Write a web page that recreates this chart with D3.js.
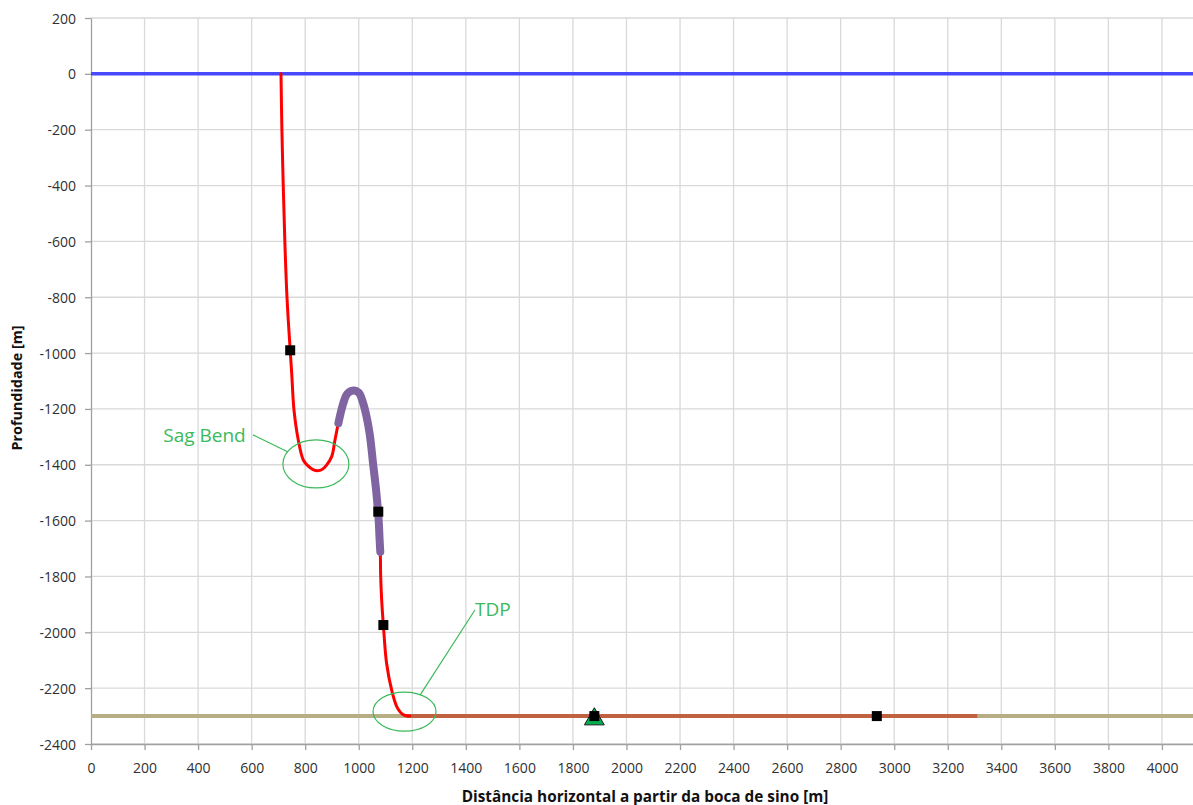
<!DOCTYPE html>
<html><head><meta charset="utf-8">
<script src="https://cdn.jsdelivr.net/npm/d3@7"></script>
<style>
html,body{margin:0;padding:0;background:#fff;}
svg{display:block;font-family:"Open Sans", sans-serif;}
</style></head>
<body><svg id="chart" width="1193" height="805"></svg>
<script>
// ---- data ----
const xTicks = d3.range(0, 4001, 200);
const yTicks = d3.range(-2400, 201, 200);
const xTitle = "Distância horizontal a partir da boca de sino [m]";
const yTitle = "Profundidade [m]";

// water surface and seabed
const surfaceLine = [[0, 0], [4116, 0]];
const seabedLine = [[0, -2300], [4116, -2300]];
// pipe resting on seabed
const flowlineOnSeabed = [[1180, -2300], [3310, -2300]];

// riser catenary (red)
const riserX = [709.6, 713, 718, 724, 732, 744, 749.6, 758.2, 774.2, 792.9, 810.5, 829.1, 846.7, 862.7, 877.7, 899, 911.3, 924, 942.3, 957, 979.6, 1000, 1014, 1028, 1041, 1054, 1065.5, 1074.5, 1078, 1080.5, 1082, 1086, 1092, 1104, 1123, 1142, 1158, 1173, 1191];
const riserY = [0, -200, -400, -600, -800, -990, -1072, -1204, -1311, -1383, -1404, -1417, -1421, -1417, -1404, -1371, -1311, -1251, -1180, -1146, -1134, -1142, -1172, -1222, -1290, -1400, -1497, -1600, -1669, -1712, -1801, -1890, -1974, -2111, -2207, -2266, -2289, -2298, -2300];

// buoyancy section (purple)
const buoyX = [924, 942.3, 957, 979.6, 1000, 1014, 1028, 1041, 1054, 1065.5, 1074.5, 1078, 1080.5];
const buoyY = [-1251, -1180, -1146, -1134, -1142, -1172, -1222, -1290, -1400, -1497, -1600, -1669, -1712];

// square markers
const markerX = [744, 1073, 1092, 1880, 2935];
const markerY = [-990, -1568, -1974, -2300, -2300];
// triangle marker
const triX = [1880];
const triY = [-2311];

// annotations (data coords)
const annotations = [
  {label: "Sag Bend", cx: 840, cy: -1397, textX: 270, textY: -1293, lx1: 605, ly1: -1293, lx2: 736, ly2: -1354, rx: 33, ry: 24},
  {label: "TDP", cx: 1171, cy: -2284, textX: 1434, textY: -1917, lx1: 1434, ly1: -1920, lx2: 1229, ly2: -2225, rx: 31.5, ry: 19.5}
];

// ---- layout ----
const svg = d3.select("#chart");
const pLeft = 91, pRight = 1193, pTop = 18, pBottom = 744;
const x = d3.scaleLinear().domain([0, 4116]).range([pLeft, pRight]);
const y = d3.scaleLinear().domain([-2400, 200]).range([pBottom, pTop]);

// grid
svg.append("g").selectAll("line").data(xTicks.filter(d => d > 0)).join("line")
  .attr("x1", d => x(d)).attr("x2", d => x(d)).attr("y1", pTop).attr("y2", pBottom)
  .attr("stroke", "#d9d9d9").attr("stroke-width", 1.3);
svg.append("g").selectAll("line").data(yTicks).join("line")
  .attr("x1", pLeft).attr("x2", pRight).attr("y1", d => y(d)).attr("y2", d => y(d))
  .attr("stroke", "#d9d9d9").attr("stroke-width", 1.3);

// axes
const fmt = d => String(d);
const xAxis = svg.append("g").attr("transform", `translate(0,${pBottom})`)
  .call(d3.axisBottom(x).tickValues(xTicks).tickFormat(fmt).tickSize(6).tickPadding(13).tickSizeOuter(0));
const yAxis = svg.append("g").attr("transform", `translate(${pLeft},0)`)
  .call(d3.axisLeft(y).tickValues(yTicks).tickFormat(fmt).tickSize(6).tickPadding(9).tickSizeOuter(0));
[xAxis, yAxis].forEach(g => {
  g.select(".domain").attr("stroke", "#a0a0a0").attr("stroke-width", 1.3);
  g.selectAll(".tick line").attr("stroke", "#a0a0a0").attr("stroke-width", 1.3);
  g.selectAll(".tick text").attr("fill", "#303030").style("font-size", "14px").style("font-family", "'Open Sans', sans-serif");
});
yAxis.selectAll(".tick text").attr("dy", "0.36em");

// axis titles (fit to reference widths)
const xt = svg.append("text").attr("x", 645).attr("y", 802).attr("text-anchor", "middle")
  .style("font-size", "13px").style("font-weight", "bold").attr("fill", "#111").text(xTitle);
const yt = svg.append("text").attr("transform", "translate(22,388) rotate(-90)").attr("text-anchor", "middle")
  .style("font-size", "13px").style("font-weight", "bold").attr("fill", "#111").text(yTitle);
const fit = (t, w) => { const L = t.node().getComputedTextLength(); if (L > 0) t.style("font-size", (13 * w / L).toFixed(2) + "px"); };
fit(xt, 367); fit(yt, 125);

const line = d3.line().x(d => x(d[0])).y(d => y(d[1]));
const curve = d3.line().x(d => x(d[0])).y(d => y(d[1])).curve(d3.curveCatmullRom.alpha(0.5));

// water surface
svg.append("path").datum(surfaceLine).attr("d", line).attr("fill", "none")
  .attr("stroke", "#4848ff").attr("stroke-width", 3.5);
// seabed
svg.append("path").datum(seabedLine).attr("d", line).attr("fill", "none")
  .attr("stroke", "#b8ae86").attr("stroke-width", 4);
svg.append("path").datum(flowlineOnSeabed).attr("d", line).attr("fill", "none")
  .attr("stroke", "#c0623f").attr("stroke-width", 4);

// riser
svg.append("path").datum(riserX.map((v, i) => [v, riserY[i]])).attr("d", curve).attr("fill", "none")
  .attr("stroke", "#ff0000").attr("stroke-width", 3).attr("stroke-linecap", "round");
svg.append("path").datum(buoyX.map((v, i) => [v, buoyY[i]])).attr("d", curve).attr("fill", "none")
  .attr("stroke", "#8064a2").attr("stroke-width", 8).attr("stroke-linecap", "round").attr("stroke-linejoin", "round");

// triangle
svg.append("g").selectAll("path").data(triX.map((v, i) => [v, triY[i]])).join("path")
  .attr("transform", d => `translate(${x(d[0])},${y(d[1])})`)
  .attr("d", d3.symbol(d3.symbolTriangle, 170))
  .attr("fill", "#00b050").attr("stroke", "#1a1a1a").attr("stroke-width", 1);
// squares
svg.append("g").selectAll("rect").data(markerX.map((v, i) => [v, markerY[i]])).join("rect")
  .attr("x", d => x(d[0]) - 5).attr("y", d => y(d[1]) - 5).attr("width", 10).attr("height", 10)
  .attr("fill", "#000");

// annotations
const green = "#3cb95a";
const ag = svg.append("g");
annotations.forEach(a => {
  ag.append("ellipse").attr("cx", x(a.cx)).attr("cy", y(a.cy)).attr("rx", a.rx).attr("ry", a.ry)
    .attr("fill", "none").attr("stroke", green).attr("stroke-width", 1.2);
  ag.append("line").attr("x1", x(a.lx1)).attr("y1", y(a.ly1)).attr("x2", x(a.lx2)).attr("y2", y(a.ly2))
    .attr("stroke", green).attr("stroke-width", 1.2);
  ag.append("text").attr("x", x(a.textX)).attr("y", y(a.textY)).attr("dy", "0.35em")
    .attr("fill", green).style("font-size", "19px").text(a.label);
});
</script></body></html>
